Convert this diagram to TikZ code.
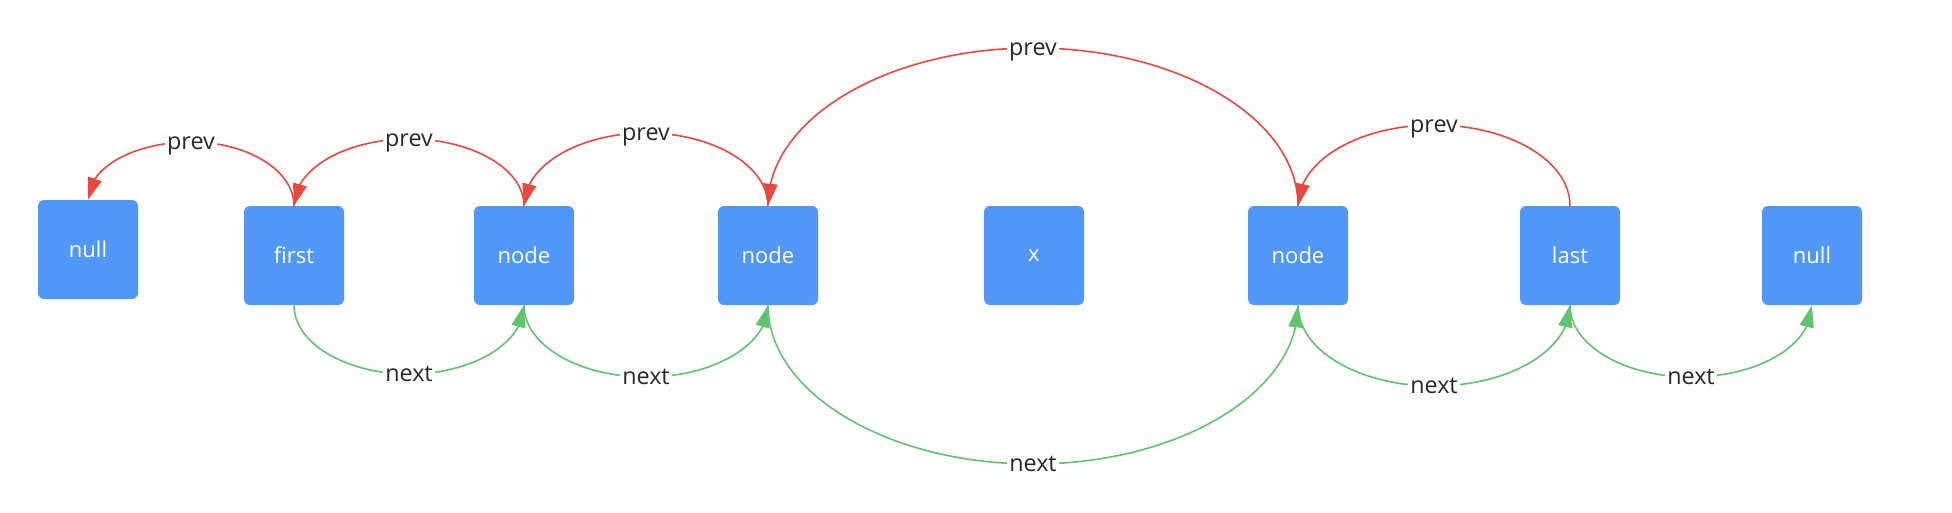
\documentclass[tikz,border=0pt]{standalone}
\usepackage{fontspec}
\setmainfont{Open Sans}
\usetikzlibrary{arrows.meta,bending}
\definecolor{boxblue}{RGB}{80,151,248}
\definecolor{prevred}{RGB}{233,72,63}
\definecolor{nextgreen}{RGB}{94,196,110}
\definecolor{labelgray}{RGB}{40,40,40}
\begin{document}
\begin{tikzpicture}[x=0.75pt,y=-0.75pt,
  listbox/.style={draw=none, fill=boxblue, rounded corners=4.5pt, minimum width=75pt, minimum height=74.25pt, inner sep=0pt, text=white, font=\fontsize{16.5}{19}\selectfont},
  edgelbl/.style={fill=white, inner xsep=1.5pt, inner ysep=1pt, text=labelgray, font=\fontsize{17.5}{21}\selectfont, text height=0.75em, text depth=0.25em, yshift=-3pt},
  prevarrow/.style={draw=prevred, line width=1.2pt, -{Triangle[length=16.5pt,width=10.5pt,flex]}},
  nextarrow/.style={draw=nextgreen, line width=1.2pt, -{Triangle[length=16.5pt,width=10.5pt,flex]}}]
\path[use as bounding box] (0,0) rectangle (1952,512);

\node[listbox] (null1) at (88,249.5) {null};
\node[listbox] (first) at (294,255.5) {first};
\node[listbox] (node1) at (524,255.5) {node};
\node[listbox] (node2) at (768,255.5) {node};
\node[listbox] (x) at (1034,255.5) {x};
\node[listbox] (node3) at (1298,255.5) {node};
\node[listbox] (last) at (1570,255.5) {last};
\node[listbox] (null2) at (1812,255.5) {null};

\coordinate (p1) at (191,142);
\coordinate (p2) at (409,139);
\coordinate (p3) at (646,133);
\coordinate (p4) at (1033,48);
\coordinate (p5) at (1434,125);
\coordinate (n1) at (409,374);
\coordinate (n2) at (646,377);
\coordinate (n3) at (1033,464);
\coordinate (n4) at (1434,386);
\coordinate (n5) at (1691,377);

\draw[prevarrow] (first.north) .. controls +(0,-35) and +(57,0) .. (p1) .. controls +(-57,0) and +(0,-32) .. (null1.north);
\draw[prevarrow] (node1.north) .. controls +(0,-37) and +(63,0) .. (p2) .. controls +(-63,0) and +(0,-37) .. (first.north);
\draw[prevarrow] (node2.north) .. controls +(0,-40) and +(67,0) .. (p3) .. controls +(-67,0) and +(0,-40) .. (node1.north);
\draw[prevarrow] (node3.north) .. controls +(0,-87) and +(146,0) .. (p4) .. controls +(-146,0) and +(0,-87) .. (node2.north);
\draw[prevarrow] (last.north) .. controls +(0,-45) and +(75,0) .. (p5) .. controls +(-75,0) and +(0,-45) .. (node3.north);

\draw[nextarrow] (first.south) .. controls +(0,38) and +(-63,0) .. (n1) .. controls +(63,0) and +(0,38) .. (node1.south);
\draw[nextarrow] (node1.south) .. controls +(0,40) and +(-67,0) .. (n2) .. controls +(67,0) and +(0,40) .. (node2.south);
\draw[nextarrow] (node2.south) .. controls +(0,87) and +(-146,0) .. (n3) .. controls +(146,0) and +(0,87) .. (node3.south);
\draw[nextarrow] (node3.south) .. controls +(0,45) and +(-75,0) .. (n4) .. controls +(75,0) and +(0,45) .. (last.south);
\draw[nextarrow] (last.south) .. controls +(0,40) and +(-67,0) .. (n5) .. controls +(67,0) and +(0,40) .. (null2.south);

\node[edgelbl] (lp1) at (p1) {prev};
\node[edgelbl] (lp2) at (p2) {prev};
\node[edgelbl] (lp3) at (p3) {prev};
\node[edgelbl] (lp4) at (p4) {prev};
\node[edgelbl] (lp5) at (p5) {prev};
\node[edgelbl] (ln1) at (n1) {next};
\node[edgelbl] (ln2) at (n2) {next};
\node[edgelbl] (ln3) at (n3) {next};
\node[edgelbl] (ln4) at (n4) {next};
\node[edgelbl] (ln5) at (n5) {next};
\end{tikzpicture}
\end{document}
